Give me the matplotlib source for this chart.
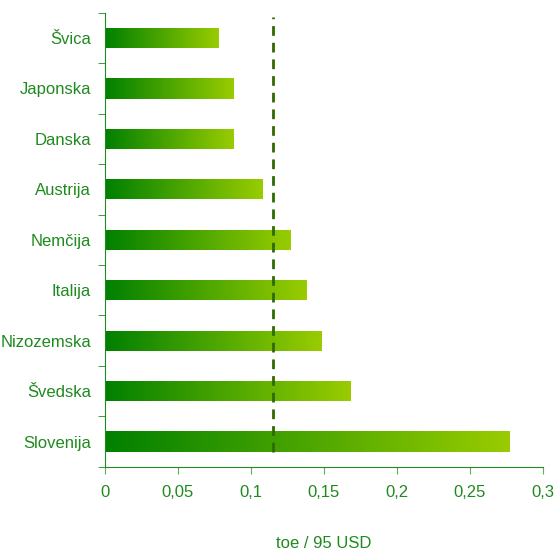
import matplotlib.pyplot as plt
import numpy as np
from matplotlib.colors import LinearSegmentedColormap
from matplotlib.ticker import FuncFormatter

# podatki
drzave = ['Slovenija', 'Švedska', 'Nizozemska', 'Italija', 'Nemčija',
          'Austrija', 'Danska', 'Japonska', 'Švica']
vrednosti = [0.277, 0.168, 0.148, 0.138, 0.127, 0.108, 0.088, 0.088, 0.078]
povprecje = 0.115
x_ticks = [0, 0.05, 0.1, 0.15, 0.2, 0.25, 0.3]

zelena = '#1f8a1f'
plt.rcParams['font.family'] = ['Liberation Sans', 'DejaVu Sans']

fig = plt.figure(figsize=(5.58, 5.55), dpi=100)
ax = fig.add_axes([0.188, 0.159, 0.785, 0.818])

cmap = LinearSegmentedColormap.from_list('g', ['#008000', '#99cc00'])
grad = np.linspace(0, 1, 256).reshape(1, -1)

y = np.arange(len(drzave))
bars = ax.barh(y, vrednosti, height=0.4, color='none', edgecolor='none')
for b in bars:
    x0, y0 = b.get_x(), b.get_y()
    w, h = b.get_width(), b.get_height()
    im = ax.imshow(grad, cmap=cmap, aspect='auto',
                   extent=[x0, x0 + w, y0, y0 + h], zorder=2)
    im.set_clip_path(b)

# povprečje
ax.axvline(povprecje, ymin=0.033, ymax=0.99, color='#2f6a00', lw=2,
           ls=(0, (3.5, 2.5)), zorder=3)

ax.set_xlim(0, 0.3)
ax.set_ylim(-0.5, len(drzave) - 0.5)
ax.set_xticks(x_ticks)
ax.xaxis.set_major_formatter(FuncFormatter(lambda v, p: ('%g' % v).replace('.', ',')))
ax.set_yticks(y)
ax.set_yticklabels(drzave)
ax.set_yticks(np.arange(-0.5, len(drzave)), minor=True)
ax.tick_params(axis='y', which='major', length=0, pad=10)
ax.tick_params(axis='y', which='minor', length=5, color=zelena, direction='out')
ax.tick_params(axis='x', length=5, color='#5fae5f', pad=8)
ax.tick_params(labelsize=12, labelcolor=zelena)

for s in ['top', 'right']:
    ax.spines[s].set_visible(False)
for s in ['left', 'bottom']:
    ax.spines[s].set_color(zelena)

ax.set_xlabel('toe / 95 USD', color=zelena, fontsize=12, labelpad=26)

fig.savefig('out.png', dpi=100)
